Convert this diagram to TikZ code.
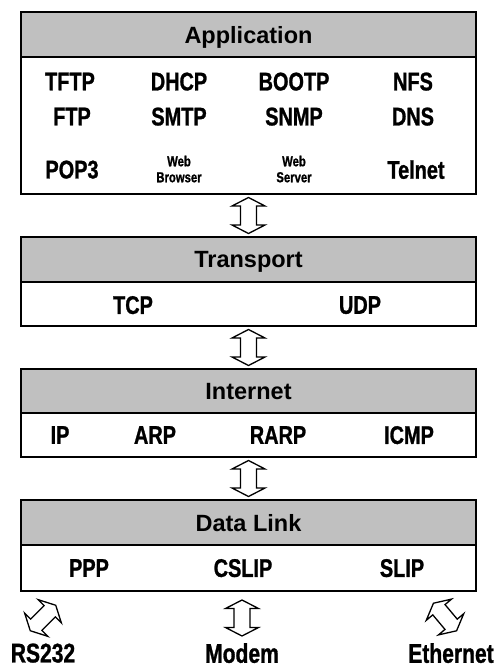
\documentclass[tikz,border=0pt]{standalone}
\usepackage{fontspec}
\setmainfont{Liberation Sans}
\newfontfamily\narrowsans[FakeStretch=0.78, FakeBold=1]{Liberation Sans}
\usetikzlibrary{calc}

\definecolor{headgray}{RGB}{192,192,192}

\tikzset{
  layerhead/.style={draw, line width=1.8pt, fill=headgray, minimum width=455pt,
    minimum height=45pt, inner sep=0pt, outer sep=0pt, text depth=0pt,
    font=\bfseries\fontsize{23.5}{28}\selectfont},
  layerbody/.style={draw, line width=1.8pt, fill=white, minimum width=455pt,
    inner sep=0pt, outer sep=0pt},
  proto/.style={inner sep=0pt, text depth=0pt,
    font=\narrowsans\bfseries\fontsize{25.5}{28}\selectfont},
  protosmall/.style={inner sep=0pt, align=center, text depth=0pt,
    font=\narrowsans\bfseries\fontsize{14.5}{16}\selectfont},
  medium/.style={inner sep=0pt, text depth=0pt,
    font=\narrowsans\bfseries\fontsize{27}{30}\selectfont},
  updown/.pic={
    \draw[line width=1.3pt, fill=white, line join=miter]
      (0,-18) -- (16.5,-9.5) -- (8,-9.5) -- (8,9.5) -- (16.5,9.5) -- (0,18)
      -- (-16.5,9.5) -- (-8,9.5) -- (-8,-9.5) -- (-16.5,-9.5) -- cycle;
  }
}

\begin{document}
\begin{tikzpicture}[x=1pt, y=-1pt]
    \useasboundingbox (0,0) rectangle (495,668);

    % Application layer
    \node[layerbody, minimum height=137pt] (appbody) at (248.5,125.5) {};
    \node[layerhead] (app) at (248.5,34.5) {Application};
    \node[proto] (tftp)  at (70,81.5)   {TFTP};
    \node[proto] (dhcp)  at (179,81.5)  {DHCP};
    \node[proto] (bootp) at (294,81.5)  {BOOTP};
    \node[proto] (nfs)   at (413,81.5)  {NFS};
    \node[proto] (ftp)   at (72,116.5)  {FTP};
    \node[proto] (smtp)  at (179,116.5) {SMTP};
    \node[proto] (snmp)  at (294,116.5) {SNMP};
    \node[proto] (dns)   at (413,116.5) {DNS};
    \node[proto] (pop3)  at (72,169.5)  {POP3};
    \node[protosmall] (browser) at (179,169) {Web\\Browser};
    \node[protosmall] (server)  at (294,169) {Web\\Server};
    \node[proto] (telnet) at (416,169.5) {Telnet};

    % Transport layer
    \node[layerbody, minimum height=44pt] (transbody) at (248.5,304) {};
    \node[layerhead] (trans) at (248.5,259.5) {Transport};
    \node[proto] (tcp) at (133,305) {TCP};
    \node[proto] (udp) at (360,305) {UDP};

    % Internet layer
    \node[layerbody, minimum height=44pt] (inetbody) at (248.5,435) {};
    \node[layerhead, minimum height=44pt] (inet) at (248.5,391) {Internet};
    \node[proto] (ip)   at (60,435)  {IP};
    \node[proto] (arp)  at (155,435) {ARP};
    \node[proto] (rarp) at (278,435) {RARP};
    \node[proto] (icmp) at (409,435) {ICMP};

    % Data link layer
    \node[layerbody, minimum height=46pt] (dlbody) at (248.5,568) {};
    \node[layerhead] (dlink) at (248.5,522.5) {Data Link};
    \node[proto] (ppp)   at (89,568)  {PPP};
    \node[proto] (cslip) at (243,568) {CSLIP};
    \node[proto] (slip)  at (402,568) {SLIP};

    % Media
    \node[medium] (rs232)    at (43,653)  {RS232};
    \node[medium] (modem)    at (242,653) {Modem};
    \node[medium] (ethernet) at (451,653) {Ethernet};

    % Arrows between layers
    \pic at ($(appbody.south)!0.5!(trans.north)$) {updown};
    \pic at ($(transbody.south)!0.5!(inet.north)$) {updown};
    \pic at ($(inetbody.south)!0.5!(dlink.north)$) {updown};
    \pic[rotate=-45] at ($(rs232)+(0,-35)$) {updown};
    \pic at ($(modem)+(0,-35)$) {updown};
    \pic[rotate=40] at ($(ethernet)+(-6,-36)$) {updown};
\end{tikzpicture}
\end{document}
